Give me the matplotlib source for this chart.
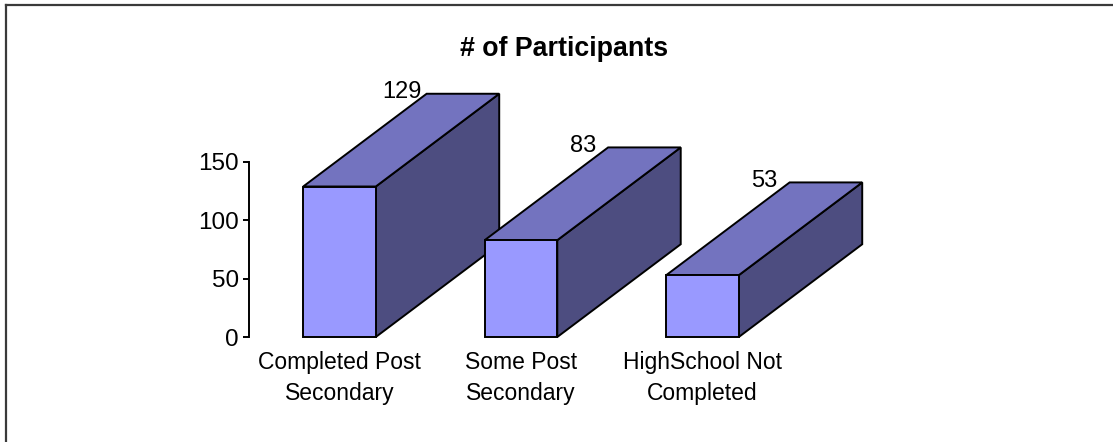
import matplotlib
matplotlib.use("Agg")
import matplotlib.pyplot as plt
from matplotlib.patches import Polygon
from matplotlib.lines import Line2D

plt.rcParams['font.family'] = ['Liberation Sans', 'DejaVu Sans']

# data
categories = ["Completed Post\nSecondary", "Some Post\nSecondary", "HighSchool Not\nCompleted"]
participants = [129, 83, 53]
title = "# of Participants"
yticks = [0, 50, 100, 150]

# 3d look
bar_w = 0.40
depth_x = 0.68
depth_y = 79.5
front_col = "#9999FF"
top_col = "#7373BF"
side_col = "#4D4D80"

fig = plt.figure(figsize=(11.13, 4.42), dpi=100)
ax = fig.add_axes([248.75 / 1113, 105 / 442, 635.25 / 1113, 175 / 442])
ax.set_xlim(-0.5, 3.0)
ax.set_ylim(0, 150)

for i, v in enumerate(participants):
    x0 = i - bar_w / 2
    x1 = i + bar_w / 2
    side = [(x1, 0), (x1 + depth_x, depth_y), (x1 + depth_x, v + depth_y), (x1, v)]
    top = [(x0, v), (x1, v), (x1 + depth_x, v + depth_y), (x0 + depth_x, v + depth_y)]
    front = [(x0, 0), (x1, 0), (x1, v), (x0, v)]
    for pts, col in [(side, side_col), (top, top_col), (front, front_col)]:
        ax.add_patch(Polygon(pts, closed=True, facecolor=col, edgecolor="black",
                             linewidth=1.4, joinstyle="miter", clip_on=False))
    ax.annotate(str(v), (x0 + depth_x, v + depth_y), xytext=(-18, 1),
                textcoords="offset points", ha="center", va="center",
                fontsize=17, annotation_clip=False)

for s in ["top", "right", "bottom"]:
    ax.spines[s].set_visible(False)
ax.spines["left"].set_linewidth(1.4)
ax.spines["left"].set_bounds(0, 150)
ax.set_yticks(yticks)
ax.tick_params(axis="y", direction="out", length=4, width=1.4, pad=3, labelsize=17.5)
ax.set_xticks(range(len(categories)))
ax.set_xticklabels(categories, fontsize=16.5, linespacing=1.45)
ax.tick_params(axis="x", length=0, pad=10)
ax.patch.set_visible(False)

fig.text(564 / 1113, 1 - 49 / 442, title, ha="center", va="center",
         fontsize=19.3, fontweight="bold")

# chart frame (only top and left edges are in view)
fig.add_artist(Line2D([5.5 / 1113, 5.5 / 1113], [0, 1 - 4.5 / 442], color="#3a3a3a", linewidth=1.6))
fig.add_artist(Line2D([5.5 / 1113, 1], [1 - 4.5 / 442, 1 - 4.5 / 442], color="#3a3a3a", linewidth=1.6))

fig.savefig("out.png", dpi=100)
